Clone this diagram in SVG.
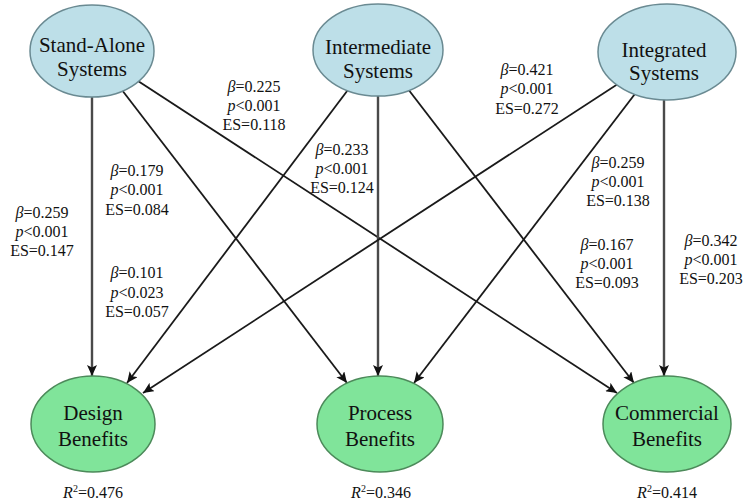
<svg xmlns="http://www.w3.org/2000/svg" width="746" height="502" viewBox="0 0 746 502">
<defs>
<marker id="ah" markerUnits="userSpaceOnUse" markerWidth="12" markerHeight="10" refX="11" refY="5" orient="auto">
<path d="M0,0 L11,5 L0,10 L2.5,5 z" fill="#111"/>
</marker>
<style>
.edge{stroke:#1a1a1a;stroke-width:1.8;fill:none;marker-end:url(#ah)}
.vert{stroke:#4a4a4a;stroke-width:2.4}
.src{fill:#bddfe8;stroke:#6a8a92;stroke-width:1.5}
.dst{fill:#80e49a;stroke:#4c8a5a;stroke-width:1.5}
text{font-family:'Liberation Serif','DejaVu Serif',serif}
.nt{font-size:21px;fill:#111;text-anchor:middle}
.lb{font-size:16px;fill:#111;text-anchor:middle}
.i{font-style:italic}
</style>
</defs>
<rect width="746" height="502" fill="#fff"/>
<g id="connectors">
<line class="edge vert" x1="92" y1="51" x2="92" y2="376"/>
<line class="edge" x1="92" y1="51" x2="347" y2="383"/>
<line class="edge" x1="92" y1="51" x2="617" y2="393"/>
<line class="edge" x1="378" y1="50" x2="127" y2="383"/>
<line class="edge vert" x1="378" y1="50" x2="378" y2="376"/>
<line class="edge" x1="378" y1="50" x2="634" y2="383"/>
<line class="edge" x1="667" y1="52" x2="143" y2="393"/>
<line class="edge" x1="667" y1="52" x2="414" y2="383"/>
<line class="edge vert" x1="664" y1="52" x2="664" y2="376"/>
</g>
<g id="stand-alone">
<ellipse class="src" cx="92" cy="51" rx="62" ry="46"/>
<text class="nt" x="92" y="52" font-family="Liberation Serif">Stand-Alone</text>
<text class="nt" x="92" y="76" font-family="Liberation Serif">Systems</text>
</g>
<g id="intermediate">
<ellipse class="src" cx="378" cy="50" rx="65" ry="46"/>
<text class="nt" x="378" y="54">Intermediate</text>
<text class="nt" x="378" y="78">Systems</text>
</g>
<g id="integrated">
<ellipse class="src" cx="667" cy="52" rx="69" ry="48"/>
<text class="nt" x="664" y="57">Integrated</text>
<text class="nt" x="664" y="80">Systems</text>
</g>
<g id="design">
<ellipse class="dst" cx="93" cy="424" rx="62" ry="48"/>
<text class="nt" x="93" y="420">Design</text>
<text class="nt" x="93" y="446">Benefits</text>
<text class="lb" x="93" y="498"><tspan class="i">R</tspan><tspan font-size="10" dy="-6">2</tspan><tspan dy="6">=0.476</tspan></text>
</g>
<g id="process">
<ellipse class="dst" cx="380" cy="424" rx="63" ry="48"/>
<text class="nt" x="380" y="420">Process</text>
<text class="nt" x="380" y="446">Benefits</text>
<text class="lb" x="381" y="498"><tspan class="i">R</tspan><tspan font-size="10" dy="-6">2</tspan><tspan dy="6">=0.346</tspan></text>
</g>
<g id="commercial">
<ellipse class="dst" cx="667" cy="424" rx="64" ry="48"/>
<text class="nt" x="667" y="420">Commercial</text>
<text class="nt" x="667" y="446">Benefits</text>
<text class="lb" x="667" y="498"><tspan class="i">R</tspan><tspan font-size="10" dy="-6">2</tspan><tspan dy="6">=0.414</tspan></text>
</g>
<g id="edge-labels">
<text class="lb" x="42" y="218"><tspan class="i">β</tspan>=0.259</text>
<text class="lb" x="42" y="237"><tspan class="i">p</tspan>&lt;0.001</text>
<text class="lb" x="42" y="256">ES=0.147</text>

<text class="lb" x="137" y="176"><tspan class="i">β</tspan>=0.179</text>
<text class="lb" x="137" y="195"><tspan class="i">p</tspan>&lt;0.001</text>
<text class="lb" x="137" y="215">ES=0.084</text>

<text class="lb" x="137" y="278"><tspan class="i">β</tspan>=0.101</text>
<text class="lb" x="137" y="298"><tspan class="i">p</tspan>&lt;0.023</text>
<text class="lb" x="137" y="317">ES=0.057</text>

<text class="lb" x="254" y="92"><tspan class="i">β</tspan>=0.225</text>
<text class="lb" x="254" y="111"><tspan class="i">p</tspan>&lt;0.001</text>
<text class="lb" x="254" y="130">ES=0.118</text>

<text class="lb" x="342" y="155"><tspan class="i">β</tspan>=0.233</text>
<text class="lb" x="342" y="174"><tspan class="i">p</tspan>&lt;0.001</text>
<text class="lb" x="342" y="193">ES=0.124</text>

<text class="lb" x="527" y="75"><tspan class="i">β</tspan>=0.421</text>
<text class="lb" x="527" y="94"><tspan class="i">p</tspan>&lt;0.001</text>
<text class="lb" x="527" y="114">ES=0.272</text>

<text class="lb" x="618" y="168"><tspan class="i">β</tspan>=0.259</text>
<text class="lb" x="618" y="187"><tspan class="i">p</tspan>&lt;0.001</text>
<text class="lb" x="618" y="206">ES=0.138</text>

<text class="lb" x="607" y="250"><tspan class="i">β</tspan>=0.167</text>
<text class="lb" x="607" y="269"><tspan class="i">p</tspan>&lt;0.001</text>
<text class="lb" x="607" y="288">ES=0.093</text>

<text class="lb" x="711" y="246"><tspan class="i">β</tspan>=0.342</text>
<text class="lb" x="711" y="265"><tspan class="i">p</tspan>&lt;0.001</text>
<text class="lb" x="711" y="284">ES=0.203</text>
</g>
</svg>
